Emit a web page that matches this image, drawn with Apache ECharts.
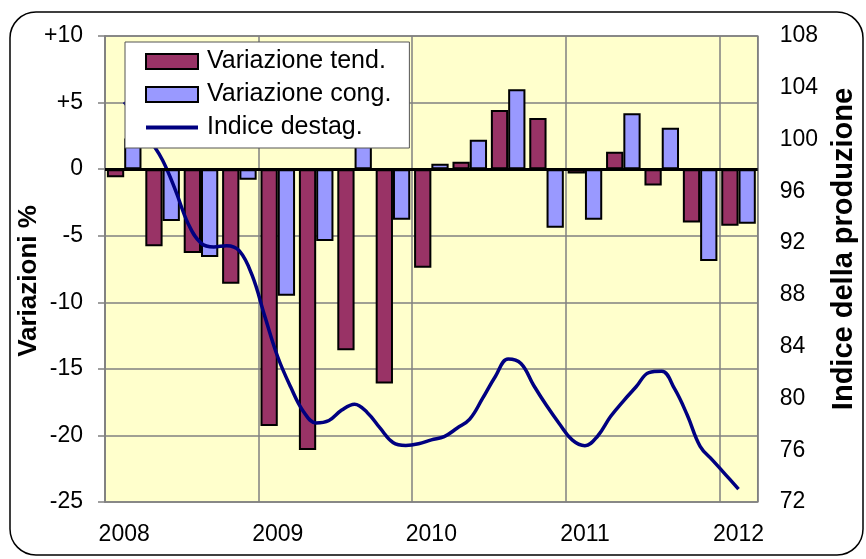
<!DOCTYPE html>
<html>
<head>
<meta charset="utf-8">
<script src="https://cdn.jsdelivr.net/npm/echarts@6/dist/echarts.min.js"></script>
<style>
  html, body { margin: 0; padding: 0; background: #fff; }
  #chart { width: 866px; height: 559px; }
</style>
</head>
<body>
<div id="chart"></div>
<script>
// trimestri (asse principale)
const quarters = [
  '2008 T1', '2008 T2', '2008 T3', '2008 T4',
  '2009 T1', '2009 T2', '2009 T3', '2009 T4',
  '2010 T1', '2010 T2', '2010 T3', '2010 T4',
  '2011 T1', '2011 T2', '2011 T3', '2011 T4',
  '2012 T1'
];
const variazioneTend = [-0.6, -5.8, -6.3, -8.6, -19.3, -21.1, -13.6, -16.1, -7.4, 0.55, 4.45, 3.85, -0.33, 1.3, -1.23, -4.0, -4.26];
const variazioneCong = [2.3, -3.9, -6.6, -0.8, -9.5, -5.4, 2.0, -3.8, 0.4, 2.2, 6.0, -4.4, -3.8, 4.2, 3.1, -6.9, -4.1];

// mesi (asse secondario, gen 2008 - mar 2012)
const months = [];
for (let y = 2008; y <= 2012; y++) {
  for (let m = 1; m <= 12; m++) {
    if (y === 2012 && m > 3) break;
    months.push(y + '-' + (m < 10 ? '0' + m : m));
  }
}
const indiceDestag = [
  null, 102.9, 101.6, 100.0, 98.4, 96.1, 93.5, 92.0, 91.7, 91.8, 91.4, 89.5,
  86.3, 83.2, 80.9, 79.0, 78.1, 78.3, 79.1, 79.55, 78.9, 77.7, 76.6, 76.37,
  76.5, 76.8, 77.05, 77.7, 78.4, 80.0, 81.7, 83.05, 82.7, 81.0, 79.45, 78.05,
  76.8, 76.35, 77.1, 78.6, 79.8, 80.9, 82.0, 82.1, 80.75, 78.7, 76.3, 75.2,
  74.1, 73.0, null
];

const leftTicks = { min: -25, max: 10, interval: 5 };
const rightTicks = { min: 72, max: 108, interval: 4 };

const font = '"Liberation Sans", Arial, sans-serif';
const gridGray = '#808080';
// icona legenda: linea orizzontale nel riquadro 52x15
const lineIcon = 'path://M0,0 L0.01,0 L0.01,0.01 Z M0,5.5 L52,5.5 L52,9.5 L0,9.5 Z M0,15 L0.01,15 L0.01,14.99 Z';

let myChart = echarts.init(document.getElementById('chart'));
let option = {
  backgroundColor: '#fff',
  animation: false,
  textStyle: { fontFamily: font },
  graphic: [{
    type: 'rect',
    shape: { x: 10, y: 12, width: 853, height: 543, r: 26 },
    style: { fill: 'none', stroke: '#000', lineWidth: 1.5 },
    z: 100
  }],
  grid: {
    left: 105, right: 105, top: 36, bottom: 57,
    show: true,
    backgroundColor: '#FFFFCC',
    borderColor: gridGray,
    borderWidth: 1.5
  },
  legend: {
    orient: 'vertical',
    left: 125, top: 42,
    z: 20,
    backgroundColor: '#fff',
    borderColor: '#555',
    borderWidth: 1,
    padding: [7, 18, 8, 20],
    itemWidth: 52, itemHeight: 15,
    itemGap: 8,
    textStyle: { fontSize: 25, color: '#000', fontFamily: font, padding: [0, 0, 0, 4] },
    data: [
      { name: 'Variazione tend.', icon: 'rect' },
      { name: 'Variazione cong.', icon: 'rect' },
      { name: 'Indice destag.', icon: lineIcon, itemStyle: { color: '#000080', borderWidth: 0 } }
    ]
  },
  xAxis: [{
    type: 'category',
    data: quarters,
    boundaryGap: true,
    axisLine: { show: false },
    axisTick: { show: false },
    axisLabel: {
      interval: 3,
      margin: 21,
      fontSize: 23,
      color: '#000',
      formatter: v => v.slice(0, 4)
    },
    splitLine: { show: true, interval: 3, lineStyle: { color: gridGray, width: 1.5 } }
  }, {
    type: 'category',
    data: months,
    boundaryGap: true,
    show: false
  }],
  yAxis: [{
    type: 'value',
    min: leftTicks.min, max: leftTicks.max, interval: leftTicks.interval,
    name: 'Variazioni %',
    nameLocation: 'middle',
    nameGap: 63,
    nameRotate: 90,
    nameMoveOverlap: false,
    nameTextStyle: { fontSize: 26, fontWeight: 'bold', color: '#000', padding: [0, 24, 0, 0] },
    axisLine: { show: true, lineStyle: { color: gridGray, width: 1.5 } },
    axisTick: { show: true, length: 7, lineStyle: { color: gridGray, width: 1.5 } },
    axisLabel: {
      margin: 22,
      fontSize: 23,
      color: '#000',
      formatter: v => (v > 0 ? '+' + v : '' + v)
    },
    splitLine: { show: true, lineStyle: { color: gridGray, width: 1.5 } }
  }, {
    type: 'value',
    position: 'right',
    min: rightTicks.min, max: rightTicks.max, interval: rightTicks.interval,
    name: 'Indice della produzione',
    nameLocation: 'middle',
    nameGap: 69,
    nameRotate: 90,
    nameTextStyle: { fontSize: 29, fontWeight: 'bold', color: '#000', padding: [0, 0, 0, 40] },
    axisLine: { show: false },
    axisTick: { show: false },
    axisLabel: { margin: 22, fontSize: 23, color: '#000' },
    splitLine: { show: false }
  }],
  series: [{
    name: 'Variazione tend.',
    type: 'bar',
    data: variazioneTend,
    barGap: '0%',
    barCategoryGap: '10%',
    itemStyle: { color: '#993366', borderColor: '#000', borderWidth: 2 },
    markLine: {
      silent: true,
      symbol: 'none',
      label: { show: false },
      lineStyle: { color: '#000', width: 3, type: 'solid' },
      data: [{ yAxis: 0 }]
    }
  }, {
    name: 'Variazione cong.',
    type: 'bar',
    data: variazioneCong,
    itemStyle: { color: '#9999FF', borderColor: '#000', borderWidth: 2 }
  }, {
    name: 'Indice destag.',
    type: 'line',
    xAxisIndex: 1,
    yAxisIndex: 1,
    data: indiceDestag,
    smooth: 0.4,
    symbol: 'none',
    lineStyle: { color: '#000080', width: 3.5 },
    itemStyle: { color: '#000080' }
  }]
};
myChart.setOption(option);
</script>
</body>
</html>
